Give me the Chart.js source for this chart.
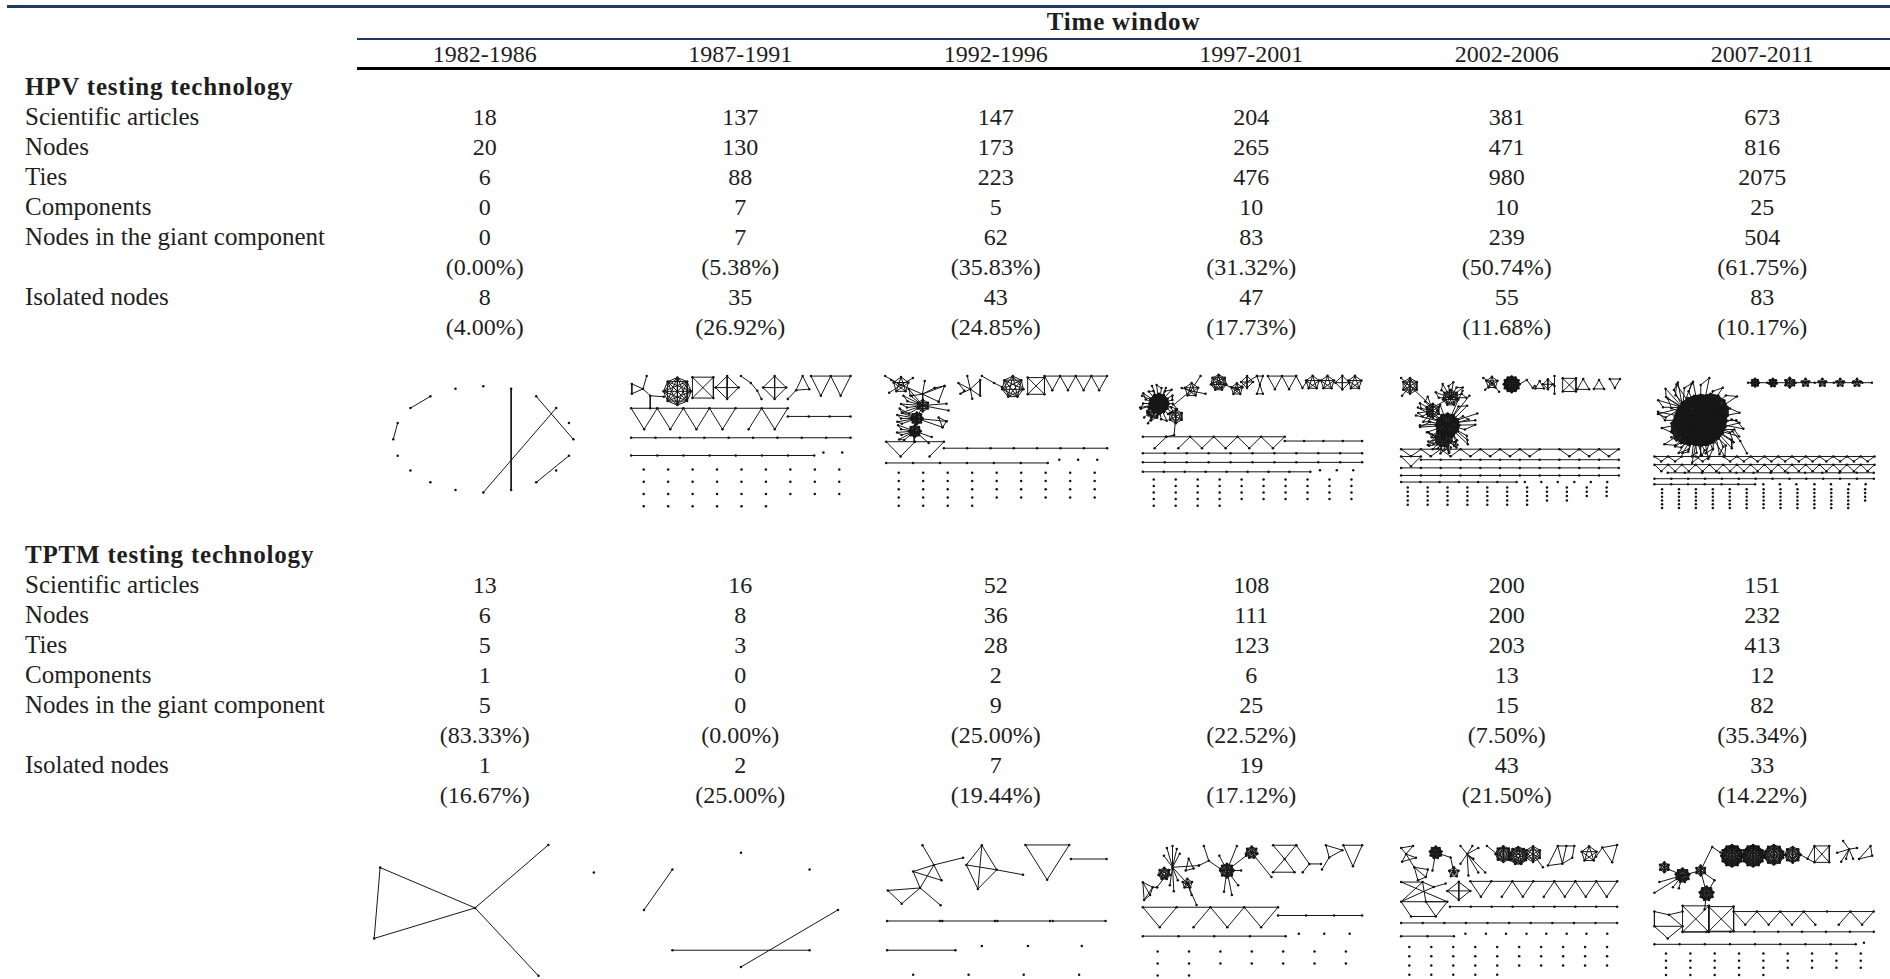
<!DOCTYPE html>
<html>
<head>
<meta charset="utf-8">
<script src="https://cdn.jsdelivr.net/npm/chart.js@4.4.1/dist/chart.umd.min.js"></script>
<style>
  html, body { margin: 0; padding: 0; background: #fff; }
  body { width: 1890px; height: 979px; overflow: hidden; position: relative;
         font-family: "Liberation Serif", "DejaVu Serif", serif; color: #1e1e1e; }
  .txt { position: absolute; white-space: nowrap; font-size: 24px; line-height: 30px; height: 30px; }
  .lab { font-size: 25px; }
  .ctr { width: 240px; text-align: center; }
  .bold { font-weight: bold; letter-spacing: 0.8px; font-size: 25px; }
  .rule { position: absolute; right: 0; }
  canvas.net { position: absolute; }
</style>
</head>
<body>
<script>
// ---- table content ----
const timeWindows = ['1982-1986', '1987-1991', '1992-1996', '1997-2001', '2002-2006', '2007-2011'];
const rowLabels = ['Scientific articles', 'Nodes', 'Ties', 'Components', 'Nodes in the giant component', '', 'Isolated nodes', ''];

const hpvArticles   = [18, 137, 147, 204, 381, 673];
const hpvNodes      = [20, 130, 173, 265, 471, 816];
const hpvTies       = [6, 88, 223, 476, 980, 2075];
const hpvComponents = [0, 7, 5, 10, 10, 25];
const hpvGiant      = [0, 7, 62, 83, 239, 504];
const hpvGiantPct   = [0.00, 5.38, 35.83, 31.32, 50.74, 61.75];
const hpvIsolated   = [8, 35, 43, 47, 55, 83];
const hpvIsolatedPct = [4.00, 26.92, 24.85, 17.73, 11.68, 10.17];

const tptmArticles   = [13, 16, 52, 108, 200, 151];
const tptmNodes      = [6, 8, 36, 111, 200, 232];
const tptmTies       = [5, 3, 28, 123, 203, 413];
const tptmComponents = [1, 0, 2, 6, 13, 12];
const tptmGiant      = [5, 0, 9, 25, 15, 82];
const tptmGiantPct   = [83.33, 0.00, 25.00, 22.52, 7.50, 35.34];
const tptmIsolated   = [1, 2, 7, 19, 43, 33];
const tptmIsolatedPct = [16.67, 25.00, 19.44, 17.12, 21.50, 14.22];

// ---- co-authorship network sketches, one per time window ----
// Components: p/e = explicit nodes and ties, ring = circular layout with listed ties,
// k = complete subgraph on a circle, chain = path, zig = row of triangles hanging
// from a shared line, grid = isolated nodes, hub = star, fan = star whose leaves
// pair up into triangles.
const hpvNetworks = [
  [
    { ring: [118.3, 74.3, 91, 54, 20], e: [[18, 17], [16, 15], [10, 3], [1, 9], [2, 5], [6, 8]] }
  ],
  [
    { p: [[10.7, 18], [10.7, 28], [22, 23], [25.7, 10], [29.3, 30], [29.3, 42.7], [43, 31]], e: [[0, 1], [1, 2], [2, 0], [2, 3], [2, 4], [4, 5], [4, 6]] },
    { k: [56.7, 25.5, 14, 8] },
    { k: [82.5, 21.7, 15, 4, 45] },
    { k: [107, 21.7, 11.7, 4] },
    { p: [[121, 10], [131, 17], [137.5, 25], [141.7, 33.3]], e: [[0, 1], [1, 2], [2, 3]] },
    { k: [155, 21.7, 11.7, 4] },
    { p: [[168.3, 33.3], [176.7, 24.3], [183.3, 10], [190, 23.3]], e: [[0, 1], [1, 2], [2, 3], [3, 1]] },
    { zig: [191.7, 10, 20, 20, 'VV'] },
    { zig: [10, 42.7, 26.38, 21.3, 'VVVV/V'] },
    { chain: [168.3, 231.7, 51, 4] },
    { chain: [10, 231.7, 72.7, 10] },
    { chain: [10, 195, 90.7, 8] },
    { p: [[204.3, 87.7], [223.3, 87.7]] },
    { grid: [22.7, 105, 24.7, 12.4, [9, 9, 9, 6]] }
  ],
  [
    { k: [24, 19, 8, 5] },
    { hub: [24, 19], to: [[8, 10], [12, 27], [36, 12], [14, 14]] },
    { p: [[24, 19], [45.7, 28.3], [46, 40], [40, 53], [38, 66], [37.3, 76.7]], e: [[0, 1], [1, 2], [2, 3], [3, 4], [4, 5]] },
    { hub: [45.7, 28.3], to: [[48, 15], [58, 22], [68, 20], [62, 36], [35, 30]] },
    { p: [[58, 22], [68, 20], [62, 36]], e: [[0, 1], [1, 2]] },
    { k: [46, 40, 6, 6] },
    { fan: [46, 40, [16, 22], 8, 150, 230] },
    { hub: [46, 40], to: [[72, 45], [70, 38]] },
    { k: [40, 53, 6, 8] },
    { fan: [40, 53, [16, 20], 6, 160, 210] },
    { hub: [40, 53], to: [[66, 62], [70, 56]] },
    { p: [[66, 62], [70, 56], [62, 52]], e: [[0, 1], [1, 2], [2, 0]] },
    { k: [38, 66, 6, 8] },
    { fan: [38, 66, [14, 18], 6, 140, 200] },
    { hub: [38, 66], to: [[55, 72], [52, 78]] },
    { p: [[94, 23.3], [82, 17], [84, 28], [91, 10], [104, 14], [104, 30], [96, 33], [88, 25]], e: [[0, 1], [0, 2], [0, 3], [0, 4], [0, 5], [0, 6], [1, 7], [2, 7], [4, 5]] },
    { p: [[105.7, 10], [118, 17], [126, 21]], e: [[0, 1], [1, 2]] },
    { k: [137, 21, 11, 7] },
    { k: [160.5, 20, 12, 4, 45] },
    { zig: [169, 10, 15.8, 14.3, 'VVVV'] },
    { zig: [9, 76.7, 29.2, 15, 'V/'] },
    { chain: [67.3, 232.3, 83.3, 8] },
    { chain: [9, 172.3, 98.3, 7] },
    { p: [[184, 95], [203, 95], [222.3, 95]] },
    { grid: [21.7, 108.3, 24.75, 8.35, [9, 9, 9, 9, 4]] }
  ],
  [
    { k: [27, 38, 10, 12] },
    { fan: [27, 38, [14, 19, 16], 22, 0, 345] },
    { k: [22, 46, 7, 7] },
    { hub: [27, 38], to: [[10, 30], [8, 42], [12, 52], [20, 20], [34, 22], [16, 58]] },
    { p: [[39, 41.7], [59, 25], [69, 10], [50, 22], [74, 28], [44, 51], [42.3, 70], [34, 71.7]], e: [[0, 1], [1, 2], [1, 3], [1, 4], [0, 5], [5, 6], [6, 7]] },
    { k: [60, 24, 7, 5] },
    { k: [44, 51, 7, 6] },
    { p: [[87.3, 16.7], [105.7, 23.3], [116, 16], [126, 10]], e: [[0, 1], [1, 2], [2, 3]] },
    { k: [87.3, 16.7, 8, 7] },
    { k: [105.7, 23.3, 6, 5] },
    { k: [116, 16, 6, 4] },
    { p: [[126, 10], [132, 10], [129, 19], [126, 28], [132, 28]], e: [[0, 1], [0, 2], [1, 2], [2, 3], [2, 4], [3, 4]] },
    { zig: [137, 10, 14.3, 13.3, 'VV'] },
    { p: [[165.6, 10], [172, 22], [176, 16]], e: [[0, 1], [1, 2]] },
    { k: [182.3, 16.7, 7, 5] },
    { k: [197.3, 16.7, 7, 5] },
    { k: [212.3, 16.7, 7, 4] },
    { k: [225, 16.7, 7, 5] },
    { zig: [10.7, 71.7, 23.9, 11.6, '//VVVV'] },
    { chain: [154.1, 232.3, 76, 5] },
    { chain: [10.7, 232.3, 88.3, 11] },
    { chain: [10.7, 232.3, 97.7, 11] },
    { chain: [10.7, 180, 107.3, 9] },
    { p: [[189.7, 105.7], [206.7, 105.7], [223.3, 105.7]] },
    { grid: [21.7, 115, 22.2, 6.67, [10, 10, 10, 10, 4]] }
  ],
  [
    { k: [22, 20, 8, 6] },
    { p: [[22, 20], [13, 12], [14, 30], [45, 42], [63, 32]], e: [[0, 1], [0, 2], [0, 3], [3, 4]] },
    { k: [63, 32, 8, 7] },
    { fan: [63, 32, [12, 16], 10, 180, 360] },
    { k: [45, 45, 7, 6] },
    { fan: [45, 45, [12, 15], 8, 110, 250] },
    { k: [60, 60, 12, 12] },
    { fan: [60, 60, [22, 28, 18], 22, -60, 250] },
    { k: [56, 73, 9, 9] },
    { fan: [56, 73, [12, 16], 12, 20, 200] },
    { hub: [60, 58], to: [[30, 42], [28, 50], [32, 60], [88, 55], [90, 48], [80, 75], [70, 80], [75, 25], [82, 30], [40, 80]] },
    { k: [104.7, 16.7, 6, 5] },
    { hub: [104.7, 16.7], to: [[96, 12], [98, 24], [112, 26]] },
    { k: [124.7, 18.3, 8, 12] },
    { p: [[133, 18], [140, 14], [146, 22], [148, 20]], e: [[0, 1], [1, 2], [2, 3]] },
    { k: [153, 20, 5, 3] },
    { k: [161.3, 18.3, 5, 4] },
    { p: [[168, 10], [168, 20], [168, 28]], e: [[0, 1], [1, 2]] },
    { k: [183, 19, 9.5, 4, 45] },
    { k: [197, 20, 7, 3] },
    { k: [213, 20, 6, 3] },
    { k: [229, 16, 6, 3, 180] },
    { zig: [13, 84.3, 20, 7.3, 'VVVVVVV-VVV'] },
    { p: [[13, 91.7], [33, 91.7], [23, 101.7]], e: [[0, 1], [1, 2], [2, 0]] },
    { chain: [33, 233, 95, 11] },
    { chain: [13, 233, 103.3, 12] },
    { chain: [13, 233, 111, 12] },
    { chain: [13, 129.7, 117.7, 7] },
    { p: [[138, 117.7], [154.7, 117.7], [171.3, 117.7], [188, 117.7], [204.7, 117.7], [221.3, 117.7]] },
    { grid: [19.7, 123.3, 20.1, 4.35, [11, 11, 11, 9, 7]] }
  ],
  [
    { k: [58, 55, 26, 24] },
    { k: [46, 62, 18, 14] },
    { k: [68, 46, 18, 14] },
    { fan: [58, 55, [36, 44, 32, 40], 32, 0, 349] },
    { fan: [40, 42, [20, 26], 10, 150, 290] },
    { fan: [72, 64, [20, 26], 10, -30, 110] },
    { fan: [52, 68, [20, 24], 10, 60, 170] },
    { p: [[90, 66], [98, 76], [104.7, 88.3]], e: [[0, 1], [1, 2]] },
    { chain: [106, 231, 16.7, 14] },
    { k: [113, 16.7, 4, 8] }, { k: [131, 16.7, 4, 7] }, { k: [148, 16.7, 5, 6] }, { k: [164, 16.7, 4, 5] },
    { k: [181, 16.7, 4, 5] }, { k: [199, 16.7, 4, 5] }, { k: [216, 16.7, 4, 5] },
    { zig: [11.3, 91.7, 13.9, 5, 'VV-V-VVVVVVVVVVV'] },
    { zig: [11.3, 100, 13.9, 6.7, 'VVVVVVVVVVVVVVVV'] },
    { chain: [24.7, 233, 108.3, 13] },
    { chain: [11.3, 233, 114.3, 14] },
    { chain: [11.3, 113, 120, 7] },
    { p: [[121.3, 120], [138, 120], [154.7, 120], [173, 120], [189.7, 120], [208, 120], [224.7, 120]] },
    { grid: [19, 125, 17.1, 3.8, [13, 13, 13, 13, 12, 12]] }
  ]
];

const tptmNetworks = [
  [
    { p: [[14, 42], [8, 114], [110, 83], [184, 19], [174, 152], [230, 47]], e: [[0, 1], [1, 2], [2, 0], [2, 3], [2, 4]] }
  ],
  [
    { ring: [121, 85, 98, 58, 8], e: [[7, 6], [2, 4], [5, 3]] }
  ],
  [
    { p: [[45.7, 19.3], [57.3, 39.3], [36.3, 46], [65, 55], [43.3, 62.7], [10.7, 65.3], [24.7, 78.7], [64, 80.3], [86.7, 32]],
      e: [[0, 1], [1, 8], [1, 2], [1, 3], [1, 4], [2, 3], [2, 4], [4, 5], [5, 6], [6, 4], [4, 7]] },
    { p: [[105.7, 19.3], [90, 39.3], [120.7, 44.3], [101.7, 63.7], [147.3, 49.3]], e: [[0, 1], [0, 2], [1, 3], [2, 3], [0, 3], [1, 2], [2, 4]] },
    { p: [[149.7, 19], [194, 19], [171.7, 54.3]], e: [[0, 1], [1, 2], [2, 0]] },
    { p: [[195.7, 33.3], [231.7, 33.3]], e: [[0, 1]] },
    { p: [[10, 96.3], [63.3, 96.3], [65.7, 96.3], [119, 96.3], [121.3, 96.3], [174.7, 96.3], [177.3, 96.3], [230.7, 96.3]], e: [[0, 1], [2, 3], [4, 5], [6, 7]] },
    { p: [[10, 126], [79, 126]], e: [[0, 1]] },
    { p: [[105.7, 121.7], [152.3, 121.7], [206.7, 121.7], [36.3, 151], [92.3, 151], [148, 151], [204, 151]] }
  ],
  [
    { p: [[10.7, 57], [20.7, 62], [12, 75], [18, 70], [25, 62]], e: [[0, 1], [1, 2], [2, 3], [3, 0], [0, 2], [1, 3], [1, 4]] },
    { k: [32.3, 48.3, 6, 7] },
    { hub: [40.7, 41.7], to: [[40.7, 20], [35, 22], [45, 23], [32, 30], [48, 28], [42, 66], [38, 60], [46, 55], [25, 62], [55.7, 58.3], [67.3, 40]] },
    { k: [55.7, 58.3, 5, 5] },
    { hub: [55.7, 58.3], to: [[65, 80], [60, 70]] },
    { p: [[57, 33], [62, 43], [54, 45]], e: [[0, 1], [1, 2], [2, 0]] },
    { p: [[67.3, 40], [77.3, 35], [72.3, 20], [89, 43.3]], e: [[0, 1], [1, 2], [1, 3]] },
    { k: [95.7, 45, 7, 8] },
    { hub: [95.7, 45], to: [[105.7, 20], [110, 45], [100.7, 70], [92.7, 66.7], [107, 60], [88, 30], [115, 30]] },
    { k: [120.7, 26.7, 6, 7] },
    { p: [[120.7, 26.7], [140.7, 51.7]], e: [[0, 1]] },
    { p: [[142.3, 19.3], [165.7, 19.3], [154, 33.3], [142.3, 46.7], [164, 46.7]], e: [[0, 1], [0, 2], [1, 2], [2, 3], [2, 4], [3, 4]] },
    { p: [[165.7, 19.3], [179, 38.3], [190.7, 38.3], [172.3, 46.7]], e: [[0, 1], [1, 2], [1, 3]] },
    { p: [[195.7, 19.3], [212.3, 24.3], [199, 31.7], [191.7, 44]], e: [[0, 1], [1, 2], [2, 0], [2, 3]] },
    { p: [[213.3, 19.3], [232.3, 19.3], [223, 40.7]], e: [[0, 1], [1, 2], [2, 0]] },
    { zig: [10.7, 82.3, 34.15, 20.4, 'V/VV'] },
    { chain: [147.3, 232.3, 90.7, 4] },
    { chain: [10.7, 155, 111.7, 5] },
    { p: [[168.3, 109.3], [194, 109.3], [219.7, 109.3]] },
    { grid: [25.7, 127.3, 31.7, 12.2, [7, 7, 2]] }
  ],
  [
    { p: [[18, 28.3], [13, 22], [25, 20], [28, 32], [14, 36], [26.3, 41.7], [38, 51.7], [30, 55], [40, 44]],
      e: [[0, 1], [0, 2], [0, 3], [0, 4], [1, 2], [3, 4], [0, 5], [5, 6], [5, 7], [6, 7], [5, 8], [8, 6]] },
    { k: [48, 26.7, 6, 9] },
    { p: [[48, 26.7], [44.7, 45], [63, 31.7], [66.3, 46.7]], e: [[0, 1], [0, 2], [2, 3]] },
    { k: [66.3, 46.7, 5, 5] },
    { hub: [79.7, 28.3], to: [[73, 20], [85, 20], [91, 22], [73, 38], [81, 50], [91, 47], [98, 47], [86, 33]] },
    { p: [[99.7, 20], [110, 28.3]], e: [[0, 1]] },
    { k: [116.3, 28.3, 8, 8] },
    { k: [131.3, 30, 9, 9] },
    { k: [146.3, 28.3, 8, 6] },
    { p: [[146.3, 28.3], [156.3, 41.7]], e: [[0, 1]] },
    { p: [[161.3, 40], [171.3, 20], [180, 20], [176, 38], [188, 20], [186, 32]], e: [[0, 1], [1, 2], [2, 3], [3, 0], [1, 3], [2, 4], [4, 5], [5, 3]] },
    { k: [203, 28.3, 8, 5] },
    { p: [[216.3, 21.7], [231.3, 19], [226.3, 36.7], [210, 31]], e: [[0, 1], [1, 2], [2, 0], [0, 3]] },
    { p: [[13, 56.7], [34.7, 56.7], [59.7, 76.7], [13, 76.7], [38, 76.7], [23, 91.7], [48, 91.7], [46, 61.7], [58, 58.3]],
      e: [[0, 1], [0, 2], [1, 4], [1, 3], [4, 2], [3, 2], [5, 6], [5, 3], [6, 4], [6, 2], [1, 7], [7, 8], [3, 7]] },
    { k: [71.3, 65.7, 11.6, 4, 0, 9.2] },
    { zig: [83, 56, 21.2, 15.7, 'V/V/VVV'] },
    { chain: [62.3, 231.3, 81.7, 9] },
    { chain: [13, 231.3, 98.3, 11] },
    { chain: [13, 66.3, 111.7, 3] },
    { p: [[78, 109.3], [98.7, 109.3], [119, 109.3], [139.7, 109.3], [159.7, 109.3], [180.3, 109.3], [200.3, 109.3], [221.3, 109.3]] },
    { grid: [21.3, 122.7, 22.2, 9.4, [10, 10, 10, 5]] }
  ],
  [
    { k: [21.3, 41.7, 5, 6] },
    { k: [39.7, 50, 7, 9] },
    { k: [58, 45, 5, 6] },
    { k: [64, 68.3, 7, 9] },
    { hub: [39.7, 50], to: [[11.3, 67.7], [16.3, 56.7], [21.3, 41.7], [58, 45], [30, 62], [36, 63]] },
    { p: [[58, 45], [64, 68.3], [62, 84.3], [69.7, 21], [78, 26.7], [72, 55]], e: [[0, 1], [1, 2], [0, 3], [3, 4], [1, 5], [0, 5]] },
    { k: [89.7, 30, 11, 12] },
    { k: [111, 30, 11, 12] },
    { k: [132, 29, 10, 10] },
    { k: [151, 29, 8, 8] },
    { p: [[159, 29], [166, 33], [173, 20], [188, 20], [173, 36.7], [188, 36.7]], e: [[0, 1], [1, 2], [1, 4], [2, 3], [3, 5], [5, 4], [4, 2], [2, 5], [3, 4]] },
    { hub: [208, 23.3], to: [[196, 27], [202, 15], [216, 22], [205, 33], [212, 33], [200, 36]] },
    { p: [[218, 33.3], [229.7, 20], [231.3, 30]], e: [[0, 1], [1, 2], [2, 0]] },
    { p: [[11.3, 86.7], [26, 90], [39.7, 86.7], [11.3, 101.7], [39.7, 101.7], [24.7, 114]], e: [[0, 1], [1, 2], [0, 3], [3, 4], [3, 5], [5, 4], [1, 4]] },
    { k: [53, 94.2, 18.8, 4, 45] },
    { k: [78.8, 94.2, 17.7, 4, 45] },
    { zig: [91.3, 86.7, 23.6, 13.3, 'VVV\\/V'] },
    { chain: [39.7, 233, 107.3, 9] },
    { chain: [11.3, 214.7, 120, 9] },
    { p: [[223, 118.3]] },
    { grid: [23, 129.3, 24.6, 7.3, [9, 9, 9, 5]] }
  ]
];

// ---- layout ----
const tableLeft = 357, tableRight = 1890;
const colWidth = (tableRight - tableLeft) / timeWindows.length;
const colCenter = i => tableLeft + colWidth * (i + 0.5);
const labelX = 25;
const rowPitch = 30;

function addText(text, x, cy, opts = {}) {
  const d = document.createElement('div');
  d.className = 'txt' + (opts.center ? ' ctr' : '') + (opts.bold ? ' bold' : '') + (opts.label ? ' lab' : '');
  d.textContent = text;
  d.style.left = (opts.center ? x - 120 : x) + 'px';
  d.style.top = (cy - 15) + 'px';
  document.body.appendChild(d);
  return d;
}
function addRule(y, h, left, color) {
  const d = document.createElement('div');
  d.className = 'rule';
  d.style.top = y + 'px'; d.style.height = h + 'px';
  d.style.left = left + 'px'; d.style.background = color;
  document.body.appendChild(d);
}

addRule(5, 3, 7, '#1f3864');
addRule(38, 2, tableLeft, '#1f3864');
addRule(67, 3, tableLeft, '#000');

const tw = addText('Time window', (tableLeft + tableRight) / 2, 22, { center: true, bold: true });
tw.style.width = '400px'; tw.style.left = ((tableLeft + tableRight) / 2 - 200) + 'px';
timeWindows.forEach((w, i) => addText(w, colCenter(i), 54, { center: true }));

const pct = v => '(' + v.toFixed(2) + '%)';

function addBlock(title, titleY, firstRowY, cols, netTop, networks) {
  addText(title, labelX, titleY, { bold: true });
  rowLabels.forEach((lab, r) => { if (lab) addText(lab, labelX, firstRowY + r * rowPitch, { label: true }); });
  cols.forEach((vals, r) => {
    vals.forEach((v, i) => addText(v, colCenter(i), firstRowY + r * rowPitch, { center: true }));
  });
  networks.forEach((spec, i) => drawNetwork(spec, colCenter(i) - 120, netTop));
}

// ---- network drawing with Chart.js scatter charts ----
function expand(c) {
  let pts = [], edges = [];
  const rad = d => d * Math.PI / 180;
  if (c.p) { pts = c.p; edges = c.e || []; }
  else if (c.hub) { pts = [c.hub].concat(c.to); edges = c.to.map((_, i) => [0, i + 1]); }
  else if (c.ring) {
    const [cx, cy, rx, ry, n] = c.ring;
    for (let i = 0; i < n; i++) {
      const a = rad(-90 + 360 * i / n);
      pts.push([cx + rx * Math.cos(a), cy + ry * Math.sin(a)]);
    }
    edges = c.e || [];
  } else if (c.k) {
    const [cx, cy, r, n, rot = 0, ry = r] = c.k;
    for (let i = 0; i < n; i++) {
      const a = rad(-90 + rot + 360 * i / n);
      pts.push([cx + r * Math.cos(a), cy + ry * Math.sin(a)]);
    }
    for (let i = 0; i < n; i++) for (let j = i + 1; j < n; j++) edges.push([i, j]);
  } else if (c.fan) {
    const [cx, cy, rs, n, a0, a1] = c.fan;
    pts.push([cx, cy]);
    for (let i = 0; i < n; i++) {
      const a = rad(a0 + (a1 - a0) * i / (n - 1));
      const r = rs[i % rs.length];
      pts.push([cx + r * Math.cos(a), cy + r * Math.sin(a)]);
      edges.push([0, i + 1]);
      if (i % 2 === 1) edges.push([i, i + 1]);
    }
  } else if (c.chain) {
    const [x0, x1, y, n] = c.chain;
    for (let i = 0; i < n; i++) pts.push([x0 + (x1 - x0) * i / (n - 1), y]);
    for (let i = 0; i < n - 1; i++) edges.push([i, i + 1]);
  } else if (c.zig) {
    const [x0, y, w, d, pat] = c.zig;
    const m = pat.length;
    for (let k = 0; k <= m; k++) pts.push([x0 + k * w, y]);
    for (let k = 0; k < m; k++) edges.push([k, k + 1]);
    [...pat].forEach((ch, k) => {
      if (ch === '-') return;
      const b = pts.length;
      pts.push([x0 + (k + 0.5) * w, y + d]);
      if (ch === 'V' || ch === '\\') edges.push([k, b]);
      if (ch === 'V' || ch === '/') edges.push([b, k + 1]);
    });
  } else if (c.grid) {
    const [x0, y0, dx, dy, counts] = c.grid;
    counts.forEach((cnt, r) => { for (let j = 0; j < cnt; j++) pts.push([x0 + j * dx, y0 + r * dy]); });
  }
  return { pts, edges };
}

function drawNetwork(spec, left, top) {
  const W = 240, H = 155;
  const canvas = document.createElement('canvas');
  canvas.className = 'net';
  canvas.width = W; canvas.height = H;
  canvas.style.left = left + 'px'; canvas.style.top = top + 'px';
  canvas.style.width = W + 'px'; canvas.style.height = H + 'px';
  document.body.appendChild(canvas);

  const nodeData = [], edgeData = [];
  const gap = { x: NaN, y: NaN };
  spec.forEach(c => {
    const { pts, edges } = expand(c);
    pts.forEach(([x, y]) => nodeData.push({ x, y }));
    edges.forEach(([a, b]) => {
      edgeData.push({ x: pts[a][0], y: pts[a][1] }, { x: pts[b][0], y: pts[b][1] }, gap);
    });
  });

  new Chart(canvas, {
    type: 'scatter',
    data: {
      datasets: [
        { data: edgeData, showLine: true, spanGaps: false, tension: 0, fill: false,
          borderColor: '#161616', borderWidth: 1, pointRadius: 0, pointHoverRadius: 0 },
        { data: nodeData, showLine: false, pointRadius: 1.25, pointHoverRadius: 1.25,
          backgroundColor: '#111', borderWidth: 0 }
      ]
    },
    options: {
      responsive: false, animation: false, events: [],
      devicePixelRatio: 1,
      layout: { padding: 0 },
      plugins: { legend: { display: false }, tooltip: { enabled: false } },
      scales: {
        x: { type: 'linear', min: 0, max: W, display: false },
        y: { type: 'linear', min: 0, max: H, reverse: true, display: false }
      }
    }
  });
}

addBlock('HPV testing technology', 87, 116.5,
  [hpvArticles, hpvNodes, hpvTies, hpvComponents, hpvGiant, hpvGiantPct.map(pct), hpvIsolated, hpvIsolatedPct.map(pct)],
  365, hpvNetworks);

addBlock('TPTM testing technology', 555, 585,
  [tptmArticles, tptmNodes, tptmTies, tptmComponents, tptmGiant, tptmGiantPct.map(pct), tptmIsolated, tptmIsolatedPct.map(pct)],
  825, tptmNetworks);
</script>
</body>
</html>
